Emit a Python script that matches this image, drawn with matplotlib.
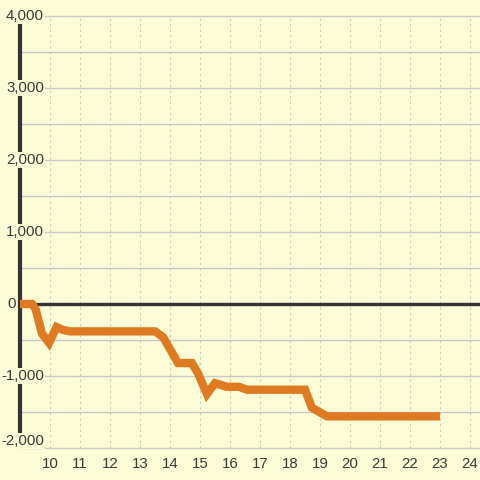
import matplotlib
matplotlib.use('Agg')
import matplotlib.pyplot as plt

# data
x_vals = [9.0, 9.4, 9.52, 9.73, 9.97, 10.22, 10.43, 10.67, 13.5, 13.77,
          14.27, 14.73, 14.93, 15.23, 15.5, 15.9, 16.3, 16.57, 18.5, 18.73,
          19.23, 23.0]
y_vals = [0, 0, -70, -410, -540, -320, -360, -380, -380, -460,
          -820, -820, -960, -1250, -1100, -1150, -1150, -1190, -1190, -1440,
          -1560, -1560]

x_ticks = list(range(10, 25))
y_ticks = [-2000, -1000, 0, 1000, 2000, 3000, 4000]
y_grid = list(range(-2000, 4001, 500))

bg = '#FCFCD6'
txt = '#3a3a3a'

plt.rcParams['font.family'] = ['Liberation Sans', 'DejaVu Sans']

fig = plt.figure(figsize=(4.8, 4.8), dpi=100, facecolor=bg)
ax = fig.add_axes([0, 0, 1, 1])
ax.set_facecolor(bg)
ax.set_xlim(8.333, 24.333)
ax.set_ylim(-2444, 4222)
ax.axis('off')

# grid
for v in y_grid:
    ax.plot([9, 24.4], [v, v], color='#c8c8c8', lw=1.0, zorder=1)
for v in x_ticks:
    ax.plot([v, v], [-2000, 4000], color='#c8c8c8', lw=0.8, ls=(0, (2, 3)), zorder=1)

# axes lines
ax.plot([9, 24.4], [0, 0], color='#333333', lw=2.4, zorder=2, solid_capstyle='butt')
ax.plot([9, 9], [-2000, 4000], color='#333333', lw=3.0, zorder=2, solid_capstyle='butt')

# series
ax.plot(x_vals, y_vals, color='#E07A22', lw=6.0, zorder=3,
        solid_joinstyle='miter', solid_capstyle='butt')

# tick labels
for v in y_ticks:
    yy = v + 100 if v == -2000 else v
    xx = 8.87 if v == 0 else 9.8
    ax.text(xx, yy, format(v, ','), ha='right', va='center', fontsize=10.8,
            color=txt, zorder=4,
            bbox=dict(facecolor=bg, edgecolor='none', pad=0.5))
for v in x_ticks:
    ax.text(v, -2225, str(v), ha='center', va='center', fontsize=10.8,
            color=txt, zorder=4)

fig.savefig('out.png', dpi=100, facecolor=bg)
